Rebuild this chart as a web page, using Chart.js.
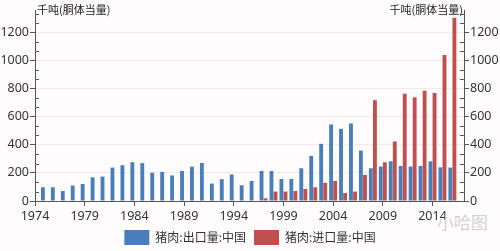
<!DOCTYPE html>
<html>
<head>
<meta charset="utf-8">
<script src="https://cdn.jsdelivr.net/npm/chart.js@4.4.1/dist/chart.umd.min.js"></script>
<style>
  html, body { margin: 0; padding: 0; background: #fffcfd; }
  #wrap { position: relative; width: 500px; height: 251px; }
  #mark { position: absolute; left: 437px; top: 209px; font: 17px "Noto Sans CJK SC"; color: #d2d2d2; }
</style>
</head>
<body>
<div id="wrap">
  <canvas id="chart" width="500" height="251"></canvas>
  <div id="mark">小哈图</div>
</div>
<script>
// ── Data (thousand tonnes, carcass weight equivalent) ─────────────────────────
const years = [1975, 1976, 1977, 1978, 1979, 1980, 1981, 1982, 1983, 1984,
  1985, 1986, 1987, 1988, 1989, 1990, 1991, 1992, 1993, 1994, 1995, 1996,
  1997, 1998, 1999, 2000, 2001, 2002, 2003, 2004, 2005, 2006, 2007, 2008,
  2009, 2010, 2011, 2012, 2013, 2014, 2015, 2016];

const exportsKt = [98, 98, 71, 110, 121, 169, 174, 238, 255, 276,
  270, 201, 207, 182, 214, 244, 271, 124, 155, 189, 112, 143,
  214, 214, 157, 157, 233, 321, 407, 545, 514, 552, 359, 233,
  245, 283, 250, 245, 250, 283, 240, 238];

const importsKt = [null, null, null, null, null, null, null, null, null, null,
  null, null, null, null, null, null, null, null, null, null, null, null,
  19, 67, 67, 71, 86, 98, 129, 143, 57, 67, 186, 718,
  276, 424, 764, 738, 786, 769, 1040, 1305];

const yTicks = [0, 200, 400, 600, 800, 1000, 1200];
const xTicks = [1974, 1979, 1984, 1989, 1994, 1999, 2004, 2009, 2014];

const seriesNames = ["猪肉:出口量:中国", "猪肉:进口量:中国"];
const unitLabel = "千吨(胴体当量)";

const AXIS_COLOR = "#555";
const LABEL_FONT = { family: "'Noto Sans', 'Noto Sans CJK SC'", size: 12.5 };
const LEGEND_SHIFT = 4; // push the legend a few px lower than Chart.js puts it

// minor ticks (3 per major step) and unit labels at the top of both axes
const axisExtras = {
  id: "axisExtras",
  afterDraw(chart) {
    const ctx = chart.ctx;
    const { left, right, top } = chart.chartArea;
    ctx.save();
    ctx.strokeStyle = AXIS_COLOR;
    ctx.lineWidth = 1;
    ["y", "y2"].forEach((id) => {
      const s = chart.scales[id];
      const x = id === "y" ? Math.round(left) : Math.round(right);
      const dir = id === "y" ? 1 : -1;
      for (let i = 1; i * 200 / 3 <= s.max; i++) {
        if (i % 3 === 0) continue;
        const py = Math.round(s.getPixelForValue(i * 200 / 3)) + 0.5;
        ctx.beginPath();
        ctx.moveTo(x, py);
        ctx.lineTo(x + dir * 4, py);
        ctx.stroke();
      }
    });
    ctx.fillStyle = "#222";
    ctx.font = "11px 'Noto Sans CJK SC'";
    ctx.textBaseline = "middle";
    ctx.textAlign = "left";
    ctx.fillText(unitLabel, left + 2, top);
    ctx.textAlign = "right";
    ctx.fillText(unitLabel, right - 1, top);
    ctx.restore();
  },
};

function yAxis(position, width) {
  return {
    type: "linear",
    position,
    min: 0,
    max: 1360,
    afterBuildTicks: (s) => { s.ticks = yTicks.map((v) => ({ value: v })); },
    afterFit: (s) => { s.width = width; },
    border: { color: AXIS_COLOR },
    grid: {
      drawOnChartArea: position === "left",
      color: "#f5e8ec",
      tickColor: AXIS_COLOR,
      tickLength: 5,
    },
    ticks: { color: "#333", padding: 1, font: LABEL_FONT, callback: (v) => String(v) },
  };
}

new Chart(document.getElementById("chart"), {
  type: "bar",
  data: {
    labels: years,
    datasets: [
      {
        label: seriesNames[0],
        data: exportsKt,
        yAxisID: "y",
        backgroundColor: "#4a7ebb",
        categoryPercentage: 0.82,
        barPercentage: 0.95,
      },
      {
        label: seriesNames[1],
        data: importsKt,
        yAxisID: "y2",
        backgroundColor: "#c0504d",
        categoryPercentage: 0.82,
        barPercentage: 0.95,
      },
    ],
  },
  options: {
    responsive: false,
    animation: false,
    layout: { padding: { top: 10, left: 0, right: 0, bottom: -LEGEND_SHIFT } },
    plugins: {
      legend: {
        position: "bottom",
        labels: {
          boxWidth: 25,
          boxHeight: 15,
          padding: 8,
          color: "#333",
          font: { family: "'Noto Sans CJK SC'", size: 12 },
        },
      },
      tooltip: { enabled: false },
    },
    scales: {
      x: {
        type: "linear",
        min: 1974,
        max: 2017.17,
        offset: false,
        afterBuildTicks: (s) => { s.ticks = xTicks.map((v) => ({ value: v })); },
        afterFit: (s) => { s.height = 251 + LEGEND_SHIFT - 201 - s.chart.legend.height; },
        border: { color: AXIS_COLOR },
        grid: {
          drawOnChartArea: false,
          offset: false,
          tickColor: AXIS_COLOR,
          tickLength: 5,
        },
        ticks: {
          color: "#333",
          padding: 3,
          maxRotation: 0,
          font: LABEL_FONT,
          callback: (v) => String(v),
        },
      },
      y: yAxis("left", 35),
      y2: yAxis("right", 36),
    },
  },
  plugins: [axisExtras],
});
</script>
</body>
</html>
